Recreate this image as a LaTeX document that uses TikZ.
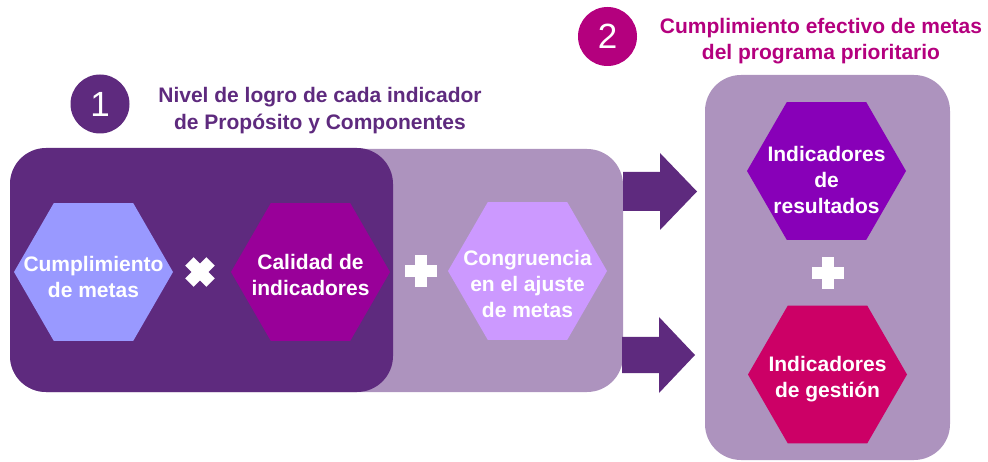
\documentclass[tikz,border=0pt]{standalone}
\usepackage{fontspec}
\setmainfont{Liberation Sans}
\definecolor{darkp}{HTML}{5E2A7E}
\definecolor{lightp}{HTML}{AD93BE}
\definecolor{magt}{HTML}{B4007E}
\definecolor{hexa}{HTML}{9999FF}
\definecolor{hexb}{HTML}{990099}
\definecolor{hexc}{HTML}{CC99FF}
\definecolor{hexd}{HTML}{8800B8}
\definecolor{hexe}{HTML}{CC0066}
\newcommand{\hexshape}[4]{%
  \coordinate (#1) at (#2,#3);
  \fill[#4] (#1) +(0:79.5) -- +(60:79.5) -- +(120:79.5) -- +(180:79.5) -- +(240:79.5) -- +(300:79.5) -- cycle;}
\tikzset{
  panel/.style={fill=lightp, rounded corners=36pt},
  hextext/.style={text=white, align=center, inner sep=0pt, font=\bfseries\fontsize{21}{26}\selectfont},
  titletext/.style={align=center, inner sep=0pt, font=\bfseries\fontsize{21}{26.5}\selectfont},
  numcircle/.style={circle, minimum size=59pt, inner sep=0pt, text=white, font=\fontsize{35}{35}\selectfont},
  blockarrow/.style={fill=darkp},
  opsign/.style={fill=white}
}
\begin{document}
\begin{tikzpicture}[x=1pt,y=-1pt]
\useasboundingbox (0,0) rectangle (988,462);
% panels
\fill[panel] (10,149) rectangle (623,392);
\fill[panel, fill=darkp] (10,148) rectangle (393,392);
\fill[panel] (705,75) rectangle (950,460);
% number circles and titles
\node[numcircle, fill=darkp] (n1) at (100,104) {1};
\node[numcircle, fill=magt] (n2) at (607.5,36.5) {2};
\node[titletext, text=darkp] (t1) at (320,110.5) {Nivel de logro de cada indicador\\de Propósito y Componentes};
\node[titletext, text=magt] (t2) at (821,41) {Cumplimiento efectivo de metas\\del programa prioritario};
% hexagons
\hexshape{h1}{93.5}{272}{hexa}
\hexshape{h2}{310.5}{272}{hexb}
\hexshape{h3}{527.5}{271}{hexc}
\hexshape{h4}{826.5}{171}{hexd}
\hexshape{h5}{827.5}{374.5}{hexe}
\node[hextext] (l1) at (93.5,276.6) {Cumplimiento\\de metas};
\node[hextext] (l2) at (310.5,275.4) {Calidad de\\indicadores};
\node[hextext] (l3) at (527.5,283.9) {Congruencia\\en el ajuste\\de metas};
\node[hextext] (l4) at (826.5,180.1) {Indicadores\\de\\resultados};
\node[hextext] (l5) at (827.5,379.3) {Indicadores\\de gestión};
% operators
\coordinate (times) at (200,272);
\fill[opsign, rotate around={45:(times)}] (185,266) rectangle (215,278);
\fill[opsign, rotate around={-45:(times)}] (185,266) rectangle (215,278);
\coordinate (plusA) at (421,271);
\fill[opsign] (405,265) rectangle (437,277);
\fill[opsign] (415,255) rectangle (427,287);
\coordinate (plusB) at (828,273);
\fill[opsign] (812,267) rectangle (844,279);
\fill[opsign] (822,257) rectangle (834,289);
% block arrows
\fill[blockarrow] (623,172) -- (660,172) -- (660,153) -- (697,191.5) -- (660,230) -- (660,211) -- (623,211) -- cycle;
\fill[blockarrow] (622,337) -- (659,337) -- (659,317) -- (695,355) -- (659,393) -- (659,373) -- (622,373) -- cycle;
\end{tikzpicture}
\end{document}
